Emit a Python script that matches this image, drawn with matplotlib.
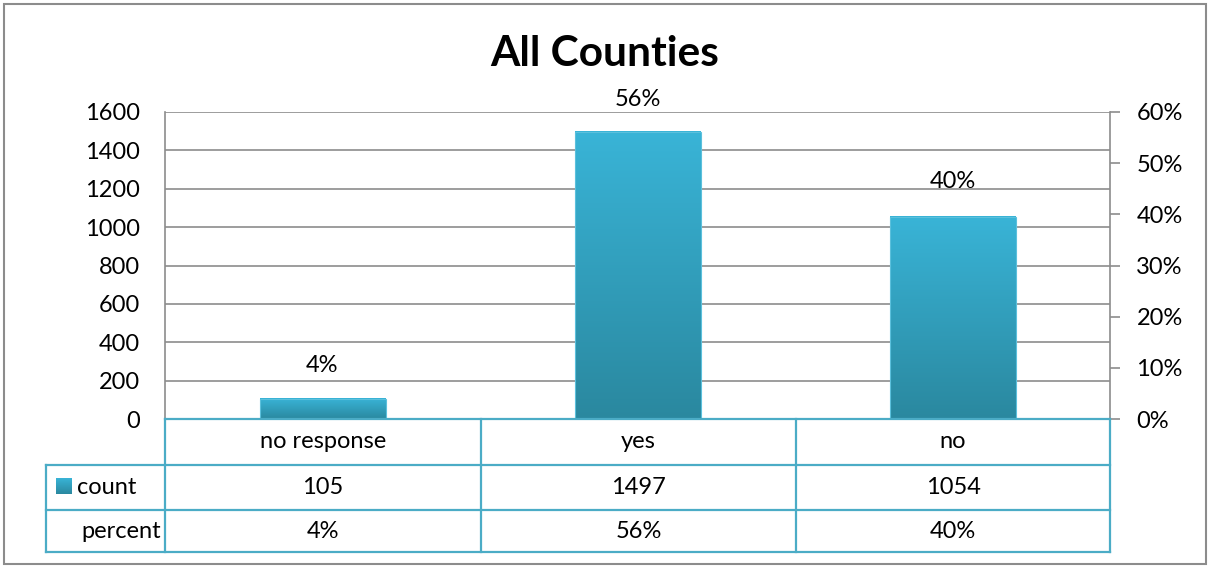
import matplotlib.pyplot as plt
import numpy as np
from matplotlib.colors import LinearSegmentedColormap
from matplotlib.lines import Line2D
from matplotlib.patches import Rectangle
from matplotlib.ticker import FuncFormatter

categories = ["no response", "yes", "no"]
counts = [105, 1497, 1054]
percents = [0.04, 0.56, 0.40]
percent_labels = ["4%", "56%", "40%"]
row_names = ["count", "percent"]

W, H = 1210, 566
FONT = "Lato"
FS = 17
TEAL = "#4BACC6"
GRID = "#8C8C8C"
bar_cmap = LinearSegmentedColormap.from_list("bar", ["#2A889F", "#39B4D7"])

plt.rcParams["font.family"] = [FONT, "DejaVu Sans"]

fig = plt.figure(figsize=(W / 100, H / 100), dpi=100)


def fx(px):
    return px / W


def fy(py):
    return 1 - py / H


# plot area in pixel terms
left, right, top, bottom = 165, 1110, 112, 419
ax = fig.add_axes([fx(left), fy(bottom), fx(right - left), (bottom - top) / H])
ax.set_yticks(np.arange(0, 1601, 200))
ax.yaxis.grid(True, color=GRID, linewidth=1.2)
ax.set_axisbelow(True)
ax.set_xticks([])
ax.tick_params(axis="y", length=0, pad=18, labelsize=FS)
for s in ["top", "bottom", "right"]:
    ax.spines[s].set_visible(False)
ax.spines["left"].set_color(GRID)
ax.spines["left"].set_linewidth(1.2)

# bars with a vertical gradient
bar_w = 0.4
grad = np.linspace(0, 1, 256).reshape(-1, 1)
bars = ax.bar(range(len(categories)), counts, width=bar_w, color="none",
              edgecolor="#5BC0DC", linewidth=0.8, zorder=3)
for b in bars:
    x0, y0 = b.get_x(), b.get_y()
    ax.imshow(grad, cmap=bar_cmap, origin="lower", aspect="auto",
              extent=[x0, x0 + b.get_width(), y0, y0 + b.get_height()], zorder=2)
ax.set_xlim(-0.5, len(categories) - 0.5)
ax.set_ylim(0, 1600)

# secondary percent axis
ax2 = ax.twinx()
ax2.set_ylim(0, 0.6)
ax2.set_yticks(np.arange(0, 0.61, 0.1))
ax2.yaxis.set_major_formatter(FuncFormatter(lambda v, _: f"{v * 100:.0f}%"))
ax2.tick_params(axis="y", length=7, width=1.2, color=GRID, pad=12, labelsize=FS)
for s in ["top", "bottom", "left"]:
    ax2.spines[s].set_visible(False)
ax2.spines["right"].set_color(GRID)
ax2.spines["right"].set_linewidth(1.2)
for i, (p, lab) in enumerate(zip(percents, percent_labels)):
    ax2.annotate(lab, (i, p), xytext=(0, 24), textcoords="offset points",
                 ha="center", va="center", fontsize=FS)

fig.text(fx(605), fy(54), "All Counties", ha="center", va="center",
         fontsize=30.5, fontweight="bold")

# data table under the plot
col_x = [left, 481, 796, right]
row_y = [bottom, 465, 510, 552]
tbl_left = 46


def hline(x0, x1, y):
    fig.add_artist(Line2D([fx(x0), fx(x1)], [fy(y), fy(y)], color=TEAL, linewidth=1.6))


def vline(x, y0, y1):
    fig.add_artist(Line2D([fx(x), fx(x)], [fy(y0), fy(y1)], color=TEAL, linewidth=1.6))


hline(left, right, row_y[0])
for y in row_y[1:]:
    hline(tbl_left, right, y)
for x in col_x:
    vline(x, row_y[0], row_y[3])
vline(tbl_left, row_y[1], row_y[3])

row_values = [[str(c) for c in counts], percent_labels]
for i, cat in enumerate(categories):
    cx = (col_x[i] + col_x[i + 1]) / 2
    fig.text(fx(cx), fy((row_y[0] + row_y[1]) / 2), cat, ha="center", va="center", fontsize=FS)
    for r in range(2):
        fig.text(fx(cx), fy((row_y[r + 1] + row_y[r + 2]) / 2), row_values[r][i],
                 ha="center", va="center", fontsize=FS)

# legend key for the count row
key = fig.add_axes([fx(56), fy(494), fx(16), 16 / H])
key.imshow(grad, cmap=bar_cmap, origin="lower", aspect="auto")
key.set_axis_off()
fig.text(fx(77), fy((row_y[1] + row_y[2]) / 2), row_names[0], ha="left", va="center", fontsize=FS)
fig.text(fx(161), fy((row_y[2] + row_y[3]) / 2), row_names[1], ha="right", va="center", fontsize=FS)

# chart border
fig.add_artist(Rectangle((fx(4), fy(564)), fx(1202), 560 / H, fill=False,
                         edgecolor="#8C8C8C", linewidth=1.5))

fig.savefig("out.png", dpi=100)
